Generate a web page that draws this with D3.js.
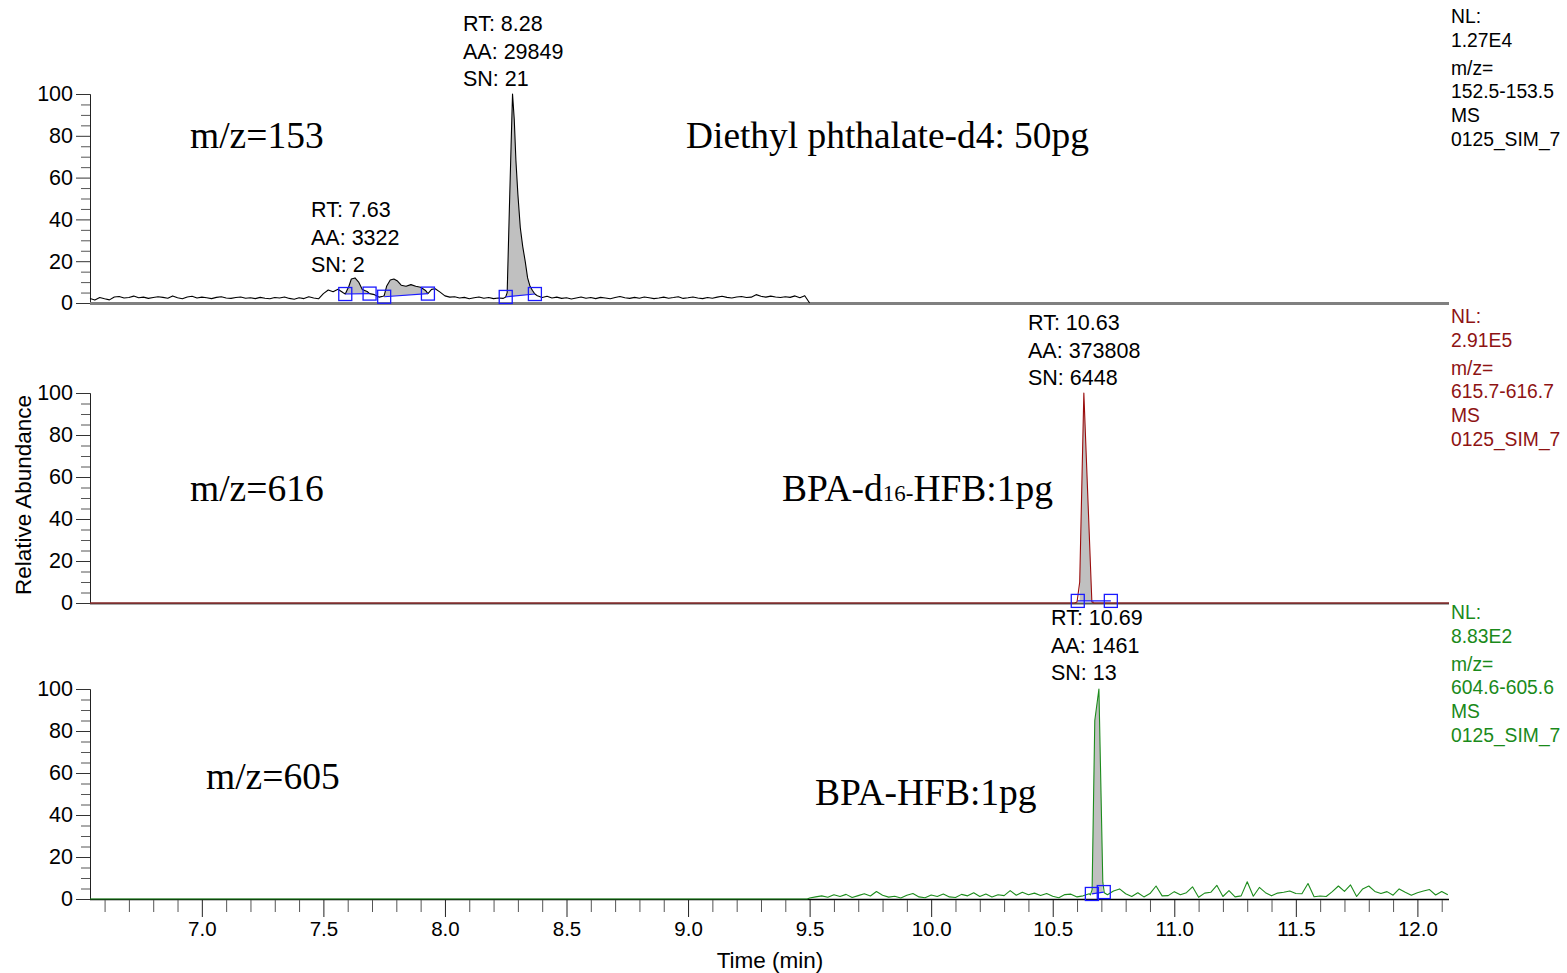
<!DOCTYPE html>
<html><head><meta charset="utf-8">
<script src="https://cdn.jsdelivr.net/npm/d3@7"></script>
<style>
body{margin:0;background:#fff;}
svg{display:block;}
text{font-family:"Liberation Sans",Arial,sans-serif;}
.serif{font-family:"Liberation Serif","Times New Roman",serif;}
</style></head><body>
<svg id="chart" width="1567" height="973"></svg>
<script>
// ---------- data ----------
const timeDomain = [6.54, 12.13];
const xMajorTicks = [7.0, 7.5, 8.0, 8.5, 9.0, 9.5, 10.0, 10.5, 11.0, 11.5, 12.0];
const yMajorTicks = [0, 20, 40, 60, 80, 100];

// m/z 153: baseline sampled every 0.02 min from 6.54 to 9.50
const base153Start = 6.54, base153Step = 0.02;
const base153 = [2.2,1.4,2.6,2.0,1.5,2.9,3.1,2.4,2.6,3.3,2.5,2.8,2.2,2.6,3.0,2.7,2.3,3.4,2.5,2.0,2.9,3.2,2.4,
  2.8,2.5,2.1,2.7,3.0,2.4,2.2,2.6,2.9,2.3,2.5,2.1,2.7,2.3,2.0,2.6,2.4,2.9,2.2,1.8,2.5,2.1,3.0,2.4,2.0,
  4.5,6.2,5.4,6.6,5.0,
  8,12,11,7,6,5,4,3,6,11,11,9,8,8.5,8,7,6,5,
  6.8,5.2,3.4,2.8,3.0,2.4,2.7,2.0,2.5,2.9,2.3,2.6,2.1,2.4,2.2,
  40,100,55,25,10,6,
  3.8,2.6,3.2,2.4,2.8,2.2,2.5,1.9,2.4,2.9,2.3,2.6,2.1,2.7,2.4,2.0,2.6,3.1,2.5,2.2,2.7,2.3,2.9,2.5,2.1,
  2.4,2.8,2.3,2.6,3.0,2.2,2.5,2.9,2.4,2.1,2.6,2.3,2.8,3.2,2.7,2.4,2.9,3.1,2.6,2.8,4.0,3.2,2.8,3.3,2.9,
  2.6,3.0,2.7,3.4,2.5,3.5,0];
// peak shapes [time, relative abundance]
const peaks153 = [
  [[7.59,4.3],[7.605,8],[7.615,11.5],[7.63,12],[7.645,10],[7.66,6.5],[7.68,5.5],[7.69,4.5],[7.71,4],[7.73,2.8],[7.745,3.2]],
  [[7.75,3.5],[7.76,8],[7.775,11],[7.79,11.5],[7.805,10.5],[7.82,8.5],[7.84,8],[7.86,8.8],[7.88,8],[7.90,7.5],[7.92,6],[7.93,4.5],[7.945,6.5]],
  [[8.25,2.9],[8.256,5],[8.265,45],[8.272,75],[8.278,100],[8.285,88],[8.292,68],[8.30,52],[8.31,36],[8.32,27],[8.33,20],[8.34,12],[8.35,8],[8.36,6],[8.37,4.3],[8.38,3.5]]
];
// integration limits [t1, v1, t2, v2]
const limits153 = [[7.59,4.3,7.69,4.5],[7.75,3.0,7.93,4.5],[8.25,2.9,8.37,4.3]];

// m/z 616
const trace616 = [[6.54,0],[10.59,0],[10.60,0.5],[10.611,10],[10.628,100],[10.661,0.5],[10.67,0],[12.13,0]];
const limits616 = [[10.603,1,10.739,1]];

// m/z 605: flat until 9.50, then noise every 0.025 min
const noise605Start = 9.5, noise605Step = 0.025;
const noise605 = [0.5,1.0,1.5,0.8,2.0,1.2,2.2,0.7,1.6,2.5,1.4,3.6,1.8,0.9,1.3,0.5,1.8,2.6,1.0,0.6,
  1.9,1.2,2.4,1.0,0.7,2.2,1.5,3.0,1.2,2.4,1.0,2.0,1.6,4.0,1.8,3.2,2.0,2.8,1.7,2.6,
  1.3,0.6,2.1,2.3,1.0,1.5,2.5,2.0,2.0,2.0,3.8,4.8,2.5,1.2,3.0,1.0,2.6,6.2,1.5,1.6,
  3.5,2.0,3.0,5.8,0.8,2.8,3.2,6.5,1.2,4.0,1.0,1.5,8.2,1.3,5.5,3.0,1.5,2.8,3.2,3.8,
  2.6,2.5,7.4,1.1,1.4,1.2,3.5,6.2,3.6,6.7,1.2,4.8,6.2,3.6,2.6,3.5,1.8,4.8,3.2,1.8,
  3.0,3.8,4.5,1.9,3.6,2.0];
const peak605 = [[10.655,2],[10.662,4.5],[10.673,85],[10.69,100],[10.706,8],[10.712,3]];
const limits605 = [[10.661,2.4,10.71,3.3]];

const annotations = [
  ["RT: 8.28", "AA: 29849", "SN: 21"],
  ["RT: 7.63", "AA: 3322", "SN: 2"],
  ["RT: 10.63", "AA: 373808", "SN: 6448"],
  ["RT: 10.69", "AA: 1461", "SN: 13"]
];
const sideLabels = [
  ["NL:", "1.27E4", "m/z=", "152.5-153.5", "MS", "0125_SIM_7"],
  ["NL:", "2.91E5", "m/z=", "615.7-616.7", "MS", "0125_SIM_7"],
  ["NL:", "8.83E2", "m/z=", "604.6-605.6", "MS", "0125_SIM_7"]
];
const ionLabels = ["m/z=153", "m/z=616", "m/z=605"];

// ---------- build series ----------
function withPeaks(base, peaks) {
  const kept = base.filter(p => !peaks.some(pk => p[0] >= pk[0][0] && p[0] <= pk[pk.length - 1][0]));
  return kept.concat(...peaks).sort((a, b) => a[0] - b[0]);
}
const base153Pts = base153.map((v, i) => [+(base153Start + i * base153Step).toFixed(3), v]);
const trace153 = withPeaks(base153Pts, peaks153);

const noise605Pts = [[6.54, 0], [9.49, 0]].concat(noise605.map((v, i) => [+(noise605Start + i * noise605Step).toFixed(3), v]));
const trace605 = withPeaks(noise605Pts, [peak605]);

// ---------- drawing ----------
const svg = d3.select("#chart");
const x = d3.scaleLinear().domain(timeDomain).range([90, 1449]);

const panels = [
  {trace: trace153, limits: limits153, y0: 303, y1: 94, color: "#000", textColor: "#000", axisColor: "#808080", axisWidth: 3},
  {trace: trace616, limits: limits616, y0: 603, y1: 393, color: "#9a0c0c", textColor: "#8e1313", axisColor: "#555", axisWidth: 2},
  {trace: trace605, limits: limits605, y0: 899, y1: 689, color: "#1c8c1c", textColor: "#1a8a1a", axisColor: "#000", axisWidth: 1.5}
];

panels.forEach((p, k) => {
  const y = d3.scaleLinear().domain([0, 100]).range([p.y0, p.y1]);
  const g = svg.append("g");

  // y axis, minor then major ticks
  const minor = d3.range(0, 101, 5).filter(v => v % 20 !== 0);
  g.append("g").attr("transform", "translate(90,0)")
    .call(d3.axisLeft(y).tickValues(minor).tickSize(9).tickSizeOuter(0).tickFormat(""))
    .call(a => a.selectAll("line").attr("stroke", "#555"));
  g.append("g").attr("transform", "translate(90,0)")
    .call(d3.axisLeft(y).tickValues(yMajorTicks).tickSize(14).tickSizeOuter(0).tickPadding(3))
    .call(a => a.select(".domain").attr("stroke", "#222"))
    .call(a => a.selectAll("line").attr("stroke", "#333"))
    .call(a => a.selectAll("text").attr("font-size", 21.5).attr("fill", "#000")
      .attr("font-family", "'Liberation Sans',Arial,sans-serif"));

  // baseline / time axis line
  g.append("line").attr("x1", 90).attr("x2", 1449).attr("y1", p.y0 + 0.5).attr("y2", p.y0 + 0.5)
    .attr("stroke", p.axisColor).attr("stroke-width", p.axisWidth);

  // integrated areas
  p.limits.forEach(([t1, v1, t2, v2]) => {
    const bl = d3.scaleLinear().domain([t1, t2]).range([v1, v2]);
    const pts = p.trace.filter(d => d[0] >= t1 && d[0] <= t2);
    g.append("path").datum(pts)
      .attr("d", d3.area().x(d => x(d[0])).y0(d => y(bl(d[0]))).y1(d => y(d[1])))
      .attr("fill", "#c0c0c0");
  });

  // trace
  g.append("path").datum(p.trace)
    .attr("d", d3.line().x(d => x(d[0])).y(d => y(d[1])))
    .attr("fill", "none").attr("stroke", p.color).attr("stroke-width", 1.1)
    .attr("stroke-linejoin", "round");

  // integration baseline + markers
  p.limits.forEach(([t1, v1, t2, v2]) => {
    g.append("line").attr("x1", x(t1)).attr("y1", y(v1)).attr("x2", x(t2)).attr("y2", y(v2))
      .attr("stroke", "#1a1aff").attr("stroke-width", 1.2);
    [[t1, v1], [t2, v2]].forEach(([t, v]) => {
      g.append("rect").attr("x", x(t) - 6.5).attr("y", y(v) - 6.5).attr("width", 13).attr("height", 13)
        .attr("fill", "none").attr("stroke", "#1a1aff").attr("stroke-width", 1.3);
    });
  });

  // side labels
  const sideY = [23, 47, 75, 98, 122, 146];
  const off = [0, 300, 596][k];
  sideLabels[k].forEach((s, i) => {
    svg.append("text").attr("x", 1451).attr("y", sideY[i] + off).attr("font-size", 19.3)
      .attr("fill", p.textColor).text(s);
  });
});

// peak annotations
const annoPos = [[463, 31], [311, 217], [1028, 330], [1051, 625]];
annotations.forEach((lines, k) => {
  lines.forEach((s, i) => {
    svg.append("text").attr("x", annoPos[k][0]).attr("y", annoPos[k][1] + i * 27.5)
      .attr("font-size", 21.5).attr("fill", "#000").text(s);
  });
});

// big serif labels
const ionPos = [[190, 148], [190, 501], [206, 789]];
ionLabels.forEach((s, k) => {
  svg.append("text").attr("class", "serif").attr("x", ionPos[k][0]).attr("y", ionPos[k][1])
    .attr("font-size", 37.5).text(s);
});
svg.append("text").attr("class", "serif").attr("x", 686).attr("y", 148).attr("font-size", 37.4)
  .text("Diethyl phthalate-d4: 50pg");
const bpa = svg.append("text").attr("class", "serif").attr("x", 782).attr("y", 501).attr("font-size", 37.5);
bpa.append("tspan").text("BPA-d");
bpa.append("tspan").attr("font-size", 23).text("16-");
bpa.append("tspan").text("HFB:1pg");
svg.append("text").attr("class", "serif").attr("x", 815).attr("y", 805).attr("font-size", 37.5)
  .text("BPA-HFB:1pg");

// time axis
const xMinor = d3.range(66, 122).map(v => v / 10).filter(v => Math.round(v * 10) % 5 !== 0);
svg.append("g").attr("transform", "translate(0,900)")
  .call(d3.axisBottom(x).tickValues(xMinor).tickSize(12).tickSizeOuter(0).tickFormat(""))
  .call(a => a.select(".domain").remove())
  .call(a => a.selectAll("line").attr("stroke", "#555"));
svg.append("g").attr("transform", "translate(0,900)")
  .call(d3.axisBottom(x).tickValues(xMajorTicks).tickSize(17).tickSizeOuter(0).tickPadding(4)
    .tickFormat(d3.format(".1f")))
  .call(a => a.select(".domain").remove())
  .call(a => a.selectAll("line").attr("stroke", "#222"))
  .call(a => a.selectAll("text").attr("font-size", 20.5).attr("fill", "#000")
    .attr("font-family", "'Liberation Sans',Arial,sans-serif"));

svg.append("text").attr("x", 770).attr("y", 968).attr("text-anchor", "middle")
  .attr("font-size", 22.5).text("Time (min)");
svg.append("text").attr("transform", "translate(31,495) rotate(-90)").attr("text-anchor", "middle")
  .attr("font-size", 22.5).text("Relative Abundance");
</script>
</body></html>
